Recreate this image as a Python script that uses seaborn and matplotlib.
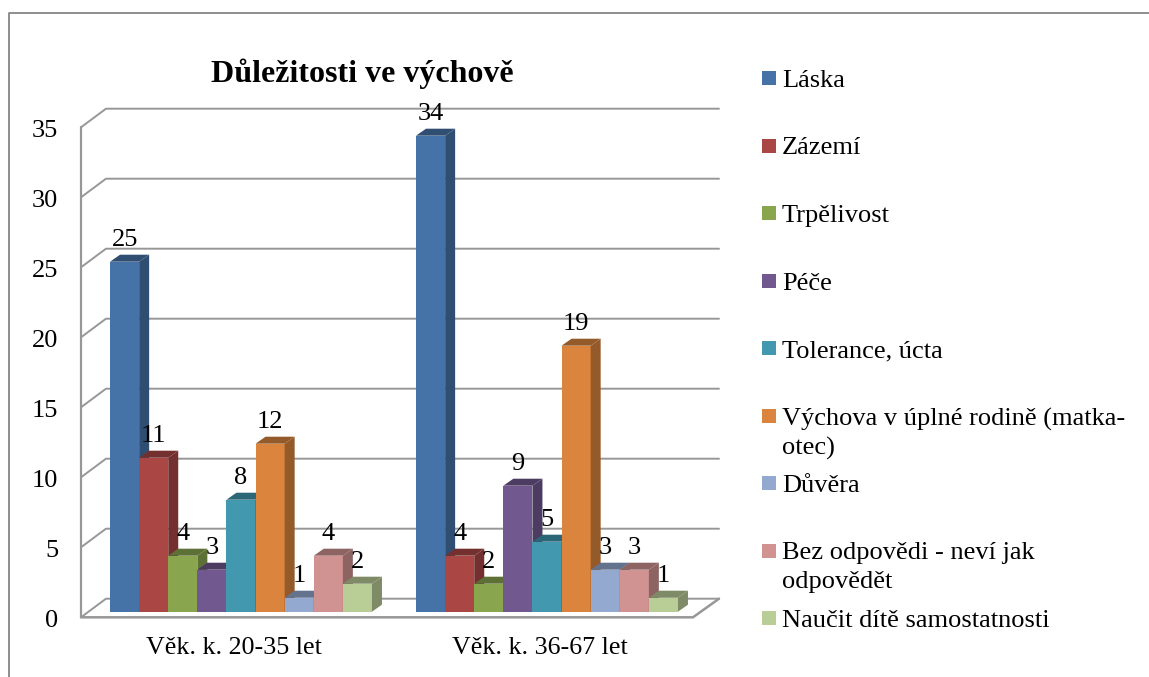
# Dulezitosti ve vychove - 3D look column chart

# ===============================
# 1. IMPORTS
# ===============================
import matplotlib
matplotlib.use("Agg")
import matplotlib.pyplot as plt
from matplotlib.lines import Line2D
from matplotlib.patches import Polygon, Rectangle
from matplotlib.transforms import ScaledTranslation
import pandas as pd
import seaborn as sns

# ===============================
# 2. DATA
# ===============================
title = "Důležitosti ve výchově"
groups = ["Věk. k. 20-35 let", "Věk. k. 36-67 let"]
series = [
    "Láska",
    "Zázemí",
    "Trpělivost",
    "Péče",
    "Tolerance, úcta",
    "Výchova v úplné rodině (matka-\notec)",
    "Důvěra",
    "Bez odpovědi - neví jak\nodpovědět",
    "Naučit dítě samostatnosti",
]
values_young = [25, 11, 4, 3, 8, 12, 1, 4, 2]
values_old = [34, 4, 2, 9, 5, 19, 3, 3, 1]
colors = ["#4572A7", "#AA4643", "#89A54E", "#71588F", "#4198AF",
          "#DB843D", "#93A9CF", "#D19392", "#B9CD96"]
y_ticks = [0, 5, 10, 15, 20, 25, 30, 35]

df = pd.DataFrame({
    "group": [groups[0]] * len(series) + [groups[1]] * len(series),
    "series": series + series,
    "value": values_young + values_old,
})

# ===============================
# 3. FIGURE AND AXES
# ===============================
W, H = 1149, 677
sns.set_theme(style="white")
plt.rcParams["font.family"] = ["Liberation Serif", "DejaVu Serif"]

fig = plt.figure(figsize=(W / 100, H / 100), dpi=100, facecolor="white")
# axes box = plane of the front of the bars
ax = fig.add_axes([88 / W, (H - 611.7) / H, 612 / W, 490 / H])
ax.patch.set_alpha(0)

sns.barplot(data=df, x="group", y="value", hue="series", hue_order=series,
            palette=colors, saturation=1, width=0.856, gap=0, linewidth=0,
            legend=False, ax=ax)
ax.set_xlim(-0.5, 1.5)
ax.set_ylim(0, 35)
ax.set_xlabel("")
ax.set_ylabel("")
sns.despine(ax=ax, left=True, bottom=True)

PX = 1 / 306   # one pixel in x data units
PY = 1 / 14    # one pixel in y data units

# ===============================
# 4. WALLS AND GRID
# ===============================
grid_col = "#979797"
x_front, x_back, x_right = -0.5 - 7 * PX, -0.5 + 18 * PX, 1.5 + 19 * PX
x_front_right = 1.5 - 7 * PX
front, back = -5.6 * PY, 13 * PY

for v in y_ticks:
    ax.plot([x_front, x_back, x_right], [v + front, v + back, v + back],
            color=grid_col, lw=1.4, clip_on=False, zorder=1)
ax.plot([x_front, x_front], [front, 35 + front], color=grid_col, lw=1.6,
        clip_on=False, zorder=1)
ax.plot([x_front, x_front_right, x_right], [front, front, back], color=grid_col,
        lw=1.8, clip_on=False, zorder=2)

# ===============================
# 5. BAR DEPTH AND LABELS
# ===============================
depth_x, depth_y = 10 * PX, 7 * PY
for i, (cont, col) in enumerate(zip(ax.containers, colors)):
    shade = tuple(c * 0.68 for c in matplotlib.colors.to_rgb(col))
    for bar in cont:
        x0, x1, h = bar.get_x(), bar.get_x() + bar.get_width(), bar.get_height()
        bar.set_zorder(3 + i)
        top = Polygon([(x0, h), (x1, h), (x1 + depth_x, h + depth_y), (x0 + depth_x, h + depth_y)],
                      closed=True, fc=shade, ec="none", clip_on=False, zorder=3 + i)
        side = Polygon([(x1, 0), (x1 + depth_x, depth_y), (x1 + depth_x, h + depth_y), (x1, h)],
                       closed=True, fc=shade, ec="none", clip_on=False, zorder=3 + i)
        ax.add_patch(top)
        ax.add_patch(side)
    for t in ax.bar_label(cont, padding=8, fontsize=19, color="black"):
        t.set_zorder(20)

# ===============================
# 6. TICKS
# ===============================
ax.set_yticks(y_ticks)
ax.set_xticks([0, 1])
ax.set_xticklabels(groups)
ax.tick_params(axis="y", length=0, pad=21.5, labelsize=19, labelcolor="black")
ax.tick_params(axis="x", length=0, pad=18, labelsize=18.7, labelcolor="black")
for lab in ax.get_yticklabels():
    lab.set_transform(lab.get_transform() + ScaledTranslation(0, -6.5 / 100, fig.dpi_scale_trans))
for lab in ax.get_xticklabels():
    lab.set_transform(lab.get_transform() + ScaledTranslation(-7 / 100, 0, fig.dpi_scale_trans))

# ===============================
# 7. TITLE, LEGEND, FRAME
# ===============================
fig.text(362 / W, 1 - 74 / H, title, ha="center", va="center", fontsize=23,
         fontweight="bold", color="black")

for i, (name, col) in enumerate(zip(series, colors)):
    y = 78 + 67.5 * i
    fig.add_artist(Rectangle((762 / W, 1 - (y + 7) / H), 14 / W, 14 / H,
                             transform=fig.transFigure, fc=col, ec="none"))
    fig.text(782 / W, 1 - (y - 8) / H, name, ha="left", va="top", fontsize=19,
             color="black", linespacing=1.36)

frame_col = "#868686"
fig.add_artist(Line2D([8.5 / W, 8.5 / W, 1], [0, 1 - 12.5 / H, 1 - 12.5 / H],
                      color=frame_col, lw=1.3, transform=fig.transFigure))

fig.savefig("out.png", dpi=100, facecolor="white")
